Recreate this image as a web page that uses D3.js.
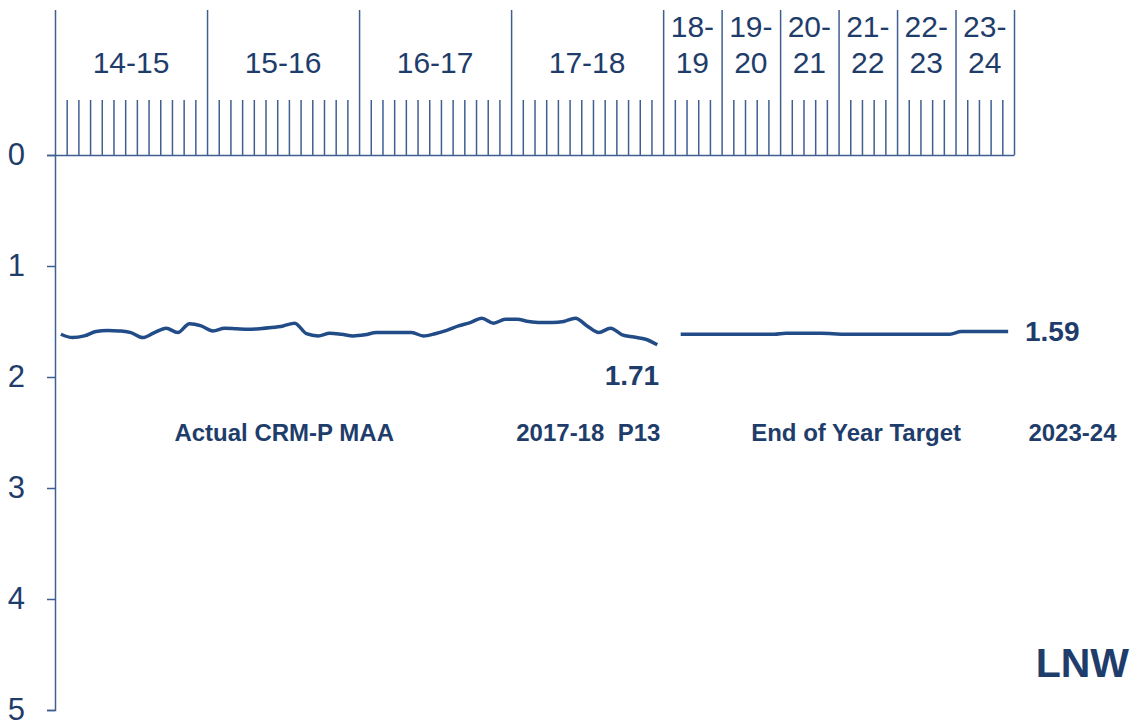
<!DOCTYPE html>
<html>
<head>
<meta charset="utf-8">
<script src="https://cdn.jsdelivr.net/npm/d3@7"></script>
<style>
    body { margin:0; background:#fff; }
    svg { font-family: "Liberation Sans", Arial, sans-serif; }
</style>
</head>
<body>
<svg></svg>
<script>
// financial years along the top, and how many periods each one takes up
var yearLabels = ["14-15","15-16","16-17","17-18","18-19","19-20","20-21","21-22","22-23","23-24"]
var yearPeriods = [13,13,13,13,5,5,5,5,5,5]

// actual CRM-P MAA, one value per period, 14-15 P1 to 17-18 P13
var actualValues = [1.615,1.645,1.63,1.59,1.58,1.585,1.60,1.645,1.60,1.56,1.60,1.52,1.54,
                    1.585,1.56,1.565,1.57,1.565,1.555,1.54,1.515,1.61,1.63,1.605,1.615,1.63,
                    1.62,1.60,1.60,1.60,1.60,1.63,1.61,1.58,1.54,1.51,1.47,1.515,1.48,
                    1.48,1.50,1.51,1.51,1.50,1.47,1.54,1.60,1.56,1.62,1.64,1.66,1.71]

// end of year target, starts at period 53 (18-19 second period)
var targetStart = 53
var targetValues = [1.615,1.615,1.615,1.615,1.615,1.615,1.615,1.615,1.615,
                    1.606,1.606,1.606,1.606,1.61,1.615,1.615,1.615,1.615,1.615,
                    1.615,1.615,1.615,1.615,1.615,1.59,1.59,1.59,1.59,1.59]

var yTicks = [0,1,2,3,4,5]

var captions = [
    {text:"Actual CRM-P MAA", at:19.6},
    {text:"2017-18  P13", at:45.6},
    {text:"End of Year Target", at:68.5},
    {text:"2023-24", at:87.0}
]

var screen = {width:1134,height:724}
var margins = {top:155,right:120,bottom:14,left:55}

var textColor = "#1f3d6b"
var lineColor = "#214c88"
var axisColor = "#3f5f90"

var setup = function()
    {
        var svg = d3.select("svg")
            .attr("width",screen.width)
            .attr("height",screen.height)

        var totalPeriods = d3.sum(yearPeriods)

        var xScale = d3.scaleLinear()
                        .domain([0,totalPeriods])
                        .range([margins.left,screen.width - margins.right])

        var yScale = d3.scaleLinear()
                        .domain([0,5])
                        .range([margins.top,screen.height - margins.bottom])

        // year boundaries and period ticks
        var boundaries = [0]
        yearPeriods.forEach(function(n){ boundaries.push(boundaries[boundaries.length-1] + n) })

        var periodTicks = []
        yearPeriods.forEach(function(n,i)
            {
                for (var k = 1; k < n; k++) { periodTicks.push(boundaries[i] + k) }
            })

        var topAxis = d3.axisTop(xScale)
                        .tickValues(periodTicks)
                        .tickSize(55)
                        .tickSizeOuter(0)
                        .tickFormat("")

        var yearAxis = d3.axisTop(xScale)
                        .tickValues(boundaries)
                        .tickSize(145)
                        .tickSizeOuter(0)
                        .tickFormat("")

        var yAxis = d3.axisLeft(yScale)
                        .tickValues(yTicks)
                        .tickSize(8)
                        .tickPadding(22)
                        .tickFormat(d3.format("d"))

        svg.append("g")
            .attr("class","axis")
            .attr("transform","translate(0,"+yScale(0)+")")
            .call(topAxis)

        svg.append("g")
            .attr("class","axis")
            .attr("transform","translate(0,"+yScale(0)+")")
            .call(yearAxis)
            .select(".domain").remove()

        svg.append("g")
            .attr("class","axis")
            .attr("transform","translate("+xScale(0)+",0)")
            .call(yAxis)

        svg.selectAll(".axis path, .axis line")
            .attr("stroke",axisColor)
            .attr("stroke-width",1.5)

        svg.selectAll(".axis text")
            .attr("fill",textColor)
            .attr("font-size",31)
            .attr("font-family","Liberation Sans, Arial, sans-serif")

        // year labels, short years split on two lines
        var labels = svg.append("g")
                        .selectAll("text")
                        .data(yearLabels)
                        .enter()
                        .append("text")
                        .attr("x",function(d,i){ return xScale((boundaries[i] + boundaries[i+1]) / 2) })
                        .attr("text-anchor","middle")
                        .attr("font-size",30)
                        .attr("fill",textColor)

        labels.each(function(d,i)
            {
                var t = d3.select(this)
                var x = t.attr("x")
                if (yearPeriods[i] > 5)
                    {
                        t.append("tspan").attr("x",x).attr("y",73).text(d)
                    }
                else
                    {
                        var parts = d.split("-")
                        t.append("tspan").attr("x",x).attr("y",37).text(parts[0] + "-")
                        t.append("tspan").attr("x",x).attr("y",73).text(parts[1])
                    }
            })

        drawLines(svg,xScale,yScale)
        drawText(svg,xScale,yScale)
    }

var drawLines = function(svg,xScale,yScale)
    {
        var actualLine = d3.line()
            .x(function(num,index){ return xScale(index + 0.5) })
            .y(function(num){ return yScale(num) })
            .curve(d3.curveMonotoneX)

        var targetLine = d3.line()
            .x(function(num,index){ return xScale(targetStart + index + 0.5) })
            .y(function(num){ return yScale(num) })
            .curve(d3.curveMonotoneX)

        svg.append("path")
            .datum(actualValues)
            .attr("fill","none")
            .attr("stroke",lineColor)
            .attr("stroke-width",3.5)
            .attr("stroke-linejoin","round")
            .attr("d",actualLine)

        svg.append("path")
            .datum(targetValues)
            .attr("fill","none")
            .attr("stroke",lineColor)
            .attr("stroke-width",3.5)
            .attr("stroke-linejoin","round")
            .attr("d",targetLine)
    }

var drawText = function(svg,xScale,yScale)
    {
        var lastActual = actualValues[actualValues.length-1]
        var lastTarget = targetValues[targetValues.length-1]

        svg.append("text")
            .attr("x",xScale(actualValues.length) - 4)
            .attr("y",yScale(lastActual) + 40)
            .attr("text-anchor","end")
            .attr("font-size",28)
            .attr("font-weight","bold")
            .attr("fill",textColor)
            .text(lastActual.toFixed(2))

        svg.append("text")
            .attr("x",xScale(targetStart + targetValues.length) + 11)
            .attr("y",yScale(lastTarget) + 10)
            .attr("font-size",28)
            .attr("font-weight","bold")
            .attr("fill",textColor)
            .text(lastTarget.toFixed(2))

        svg.append("g")
            .selectAll("text")
            .data(captions)
            .enter()
            .append("text")
            .attr("x",function(d){ return xScale(d.at) })
            .attr("y",yScale(2.58))
            .attr("text-anchor","middle")
            .attr("font-size",24)
            .attr("font-weight","bold")
            .attr("fill",textColor)
            .style("white-space","pre")
            .text(function(d){ return d.text })

        svg.append("text")
            .attr("x",screen.width - 5)
            .attr("y",677)
            .attr("text-anchor","end")
            .attr("font-size",41)
            .attr("font-weight","bold")
            .attr("fill",textColor)
            .text("LNW")
    }

setup()
</script>
</body>
</html>
